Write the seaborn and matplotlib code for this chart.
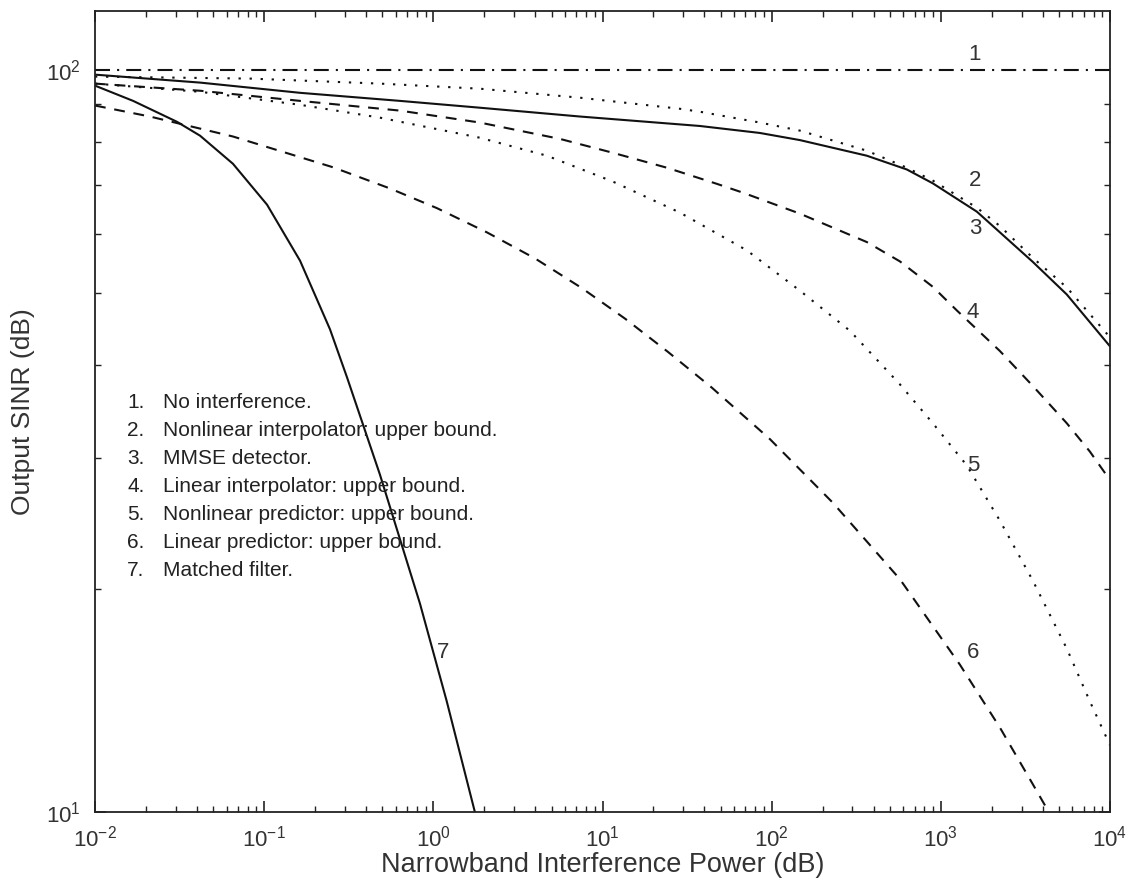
import numpy as np
import pandas as pd
import seaborn as sns
import matplotlib
matplotlib.use("Agg")
import matplotlib.pyplot as plt
from matplotlib.ticker import FixedLocator, NullFormatter

# values (log-log axes)
no_interf_x = [0.01, 10000]
no_interf_y = [100, 100]

nl_interp_x = [0.01, 0.0824, 0.483, 1.88, 7.35, 28.7, 37.6, 85.1, 146.8, 365, 629, 897, 1632, 2232, 3497, 5555, 10000]
nl_interp_y = [97.9, 97.3, 95.8, 94.3, 91.7, 88.6, 87.8, 84.9, 82.8, 77.8, 73.8, 70.9, 65.2, 61.6, 55.8, 50.9, 43.6]

mmse_x = [0.01, 0.0418, 0.163, 0.635, 1.88, 7.35, 37.6, 85.1, 146.8, 365, 629, 897, 1632, 3497, 5555, 10000]
mmse_y = [98.5, 96.1, 93.1, 90.8, 88.9, 86.5, 84.0, 82.2, 80.4, 76.6, 73.4, 70.3, 64.4, 55.1, 49.8, 42.4]

lin_interp_x = [0.01, 0.0418, 0.163, 0.635, 1.88, 5.60, 11.5, 24.0, 47.4, 67.6, 146.8, 365, 572, 897, 1243, 2232, 3497, 5555, 7597, 10000]
lin_interp_y = [95.8, 93.7, 90.8, 88.1, 84.9, 80.7, 77.3, 73.8, 70.2, 68.3, 64.0, 58.6, 55.2, 51.0, 47.4, 41.8, 37.5, 33.4, 30.6, 28.0]

nl_pred_x = [0.01, 0.0418, 0.163, 0.483, 1.88, 4.69, 11.5, 28.7, 71.4, 146.8, 290, 572, 897, 1425, 2232, 3497, 5555, 7597, 10000]
nl_pred_y = [95.8, 93.4, 89.7, 86.2, 81.0, 76.6, 70.7, 64.2, 57.1, 50.4, 44.5, 37.7, 33.4, 29.3, 24.7, 20.5, 16.6, 14.1, 12.3]

lin_pred_x = [0.01, 0.0211, 0.0654, 0.255, 0.554, 1.05, 2.07, 3.99, 7.55, 13.6, 24.3, 44.3, 97.6, 230, 572, 1295, 2232, 3497, 4347]
lin_pred_y = [89.5, 86.5, 81.3, 73.9, 69.2, 65.1, 60.4, 55.7, 50.8, 46.2, 41.7, 37.3, 31.8, 26.1, 20.6, 15.8, 13.0, 10.9, 10.0]

matched_x = [0.01, 0.0168, 0.0305, 0.0418, 0.0654, 0.104, 0.163, 0.245, 0.309, 0.483, 0.833, 1.20, 1.76]
matched_y = [95.2, 90.8, 85.1, 81.5, 74.7, 65.8, 55.3, 44.7, 38.5, 28.5, 19.1, 14.1, 10.0]

x_major = [1e-2, 1e-1, 1e0, 1e1, 1e2, 1e3, 1e4]
y_major = [10, 100]

legend_lines = [
    "No interference.",
    "Nonlinear interpolator: upper bound.",
    "MMSE detector.",
    "Linear interpolator: upper bound.",
    "Nonlinear predictor: upper bound.",
    "Linear predictor: upper bound.",
    "Matched filter.",
]

sns.set_theme(style="ticks")
plt.rcParams["font.family"] = ["Liberation Sans", "DejaVu Sans"]
plt.rcParams["mathtext.fontset"] = "custom"
plt.rcParams["mathtext.rm"] = "Liberation Sans"
plt.rcParams["mathtext.it"] = "Liberation Sans"
plt.rcParams["axes.unicode_minus"] = False

fig = plt.figure(figsize=(11.32, 8.85), dpi=100)
ax = fig.add_axes([95 / 1132, 1 - 812 / 885, 1015 / 1132, 801 / 885])

lw = 1.5
dashed = (5.2, 4.2)
dotted = (1.1, 4.2)
dashdot = (7.2, 3.4, 1, 3.4)

curves = [
    (no_interf_x, no_interf_y, dashdot),
    (nl_interp_x, nl_interp_y, dotted),
    (mmse_x, mmse_y, None),
    (lin_interp_x, lin_interp_y, dashed),
    (nl_pred_x, nl_pred_y, dotted),
    (lin_pred_x, lin_pred_y, dashed),
    (matched_x, matched_y, None),
]
for cx, cy, dash in curves:
    df = pd.DataFrame({"x": cx, "y": cy})
    kw = {}
    if dash is not None:
        kw["dashes"] = dash
    sns.lineplot(data=df, x="x", y="y", ax=ax, color="#111111", lw=lw,
                 estimator=None, sort=False, **kw)

ax.set_xscale("log")
ax.set_yscale("log")
ax.set_xlim(1e-2, 1e4)
ax.set_ylim(10, 120)

ax.set_xticks(x_major)
ax.set_yticks(y_major)
ax.xaxis.set_minor_locator(FixedLocator([m * d for d in x_major[:-1] for m in range(2, 10)]))
ax.yaxis.set_minor_locator(FixedLocator([m * 10 for m in range(2, 10)]))
ax.yaxis.set_minor_formatter(NullFormatter())
ax.xaxis.set_minor_formatter(NullFormatter())

for s in ax.spines.values():
    s.set_linewidth(1.3)
    s.set_color("#222222")
ax.tick_params(which="both", direction="in", top=True, right=True, colors="#222222",
               labelcolor="#333333", labelsize=16)
ax.tick_params(which="major", length=8, width=1.2, pad=10)
ax.tick_params(which="minor", length=4.5, width=1.0)

ax.set_xlabel("Narrowband Interference Power (dB)", fontsize=19.5, color="#333333", labelpad=0)
ax.set_ylabel("Output SINR (dB)", fontsize=19, color="#333333", labelpad=8)

# curve numbers
num_style = dict(fontsize=16, color="#333333", ha="center", va="center")
ax.text(1589, 105, "1", **num_style)
ax.text(1589, 70.9, "2", **num_style)
ax.text(1589, 61.1, "3", **num_style)
ax.text(1545, 47.1, "4", **num_style)
ax.text(1545, 29.3, "5", **num_style)
ax.text(1545, 16.4, "6", **num_style)
ax.text(1.14, 16.4, "7", **num_style)

# legend block
for i, line in enumerate(legend_lines):
    yy = (812 - (402 + 28 * i)) / 801
    ax.text((127 - 95) / 1015, yy, f"{i + 1}.", transform=ax.transAxes,
            fontsize=15, color="#222222", va="center", ha="left")
    ax.text((163 - 95) / 1015, yy, line, transform=ax.transAxes,
            fontsize=15, color="#222222", va="center", ha="left")

fig.savefig("out.png", dpi=100, facecolor="white")
